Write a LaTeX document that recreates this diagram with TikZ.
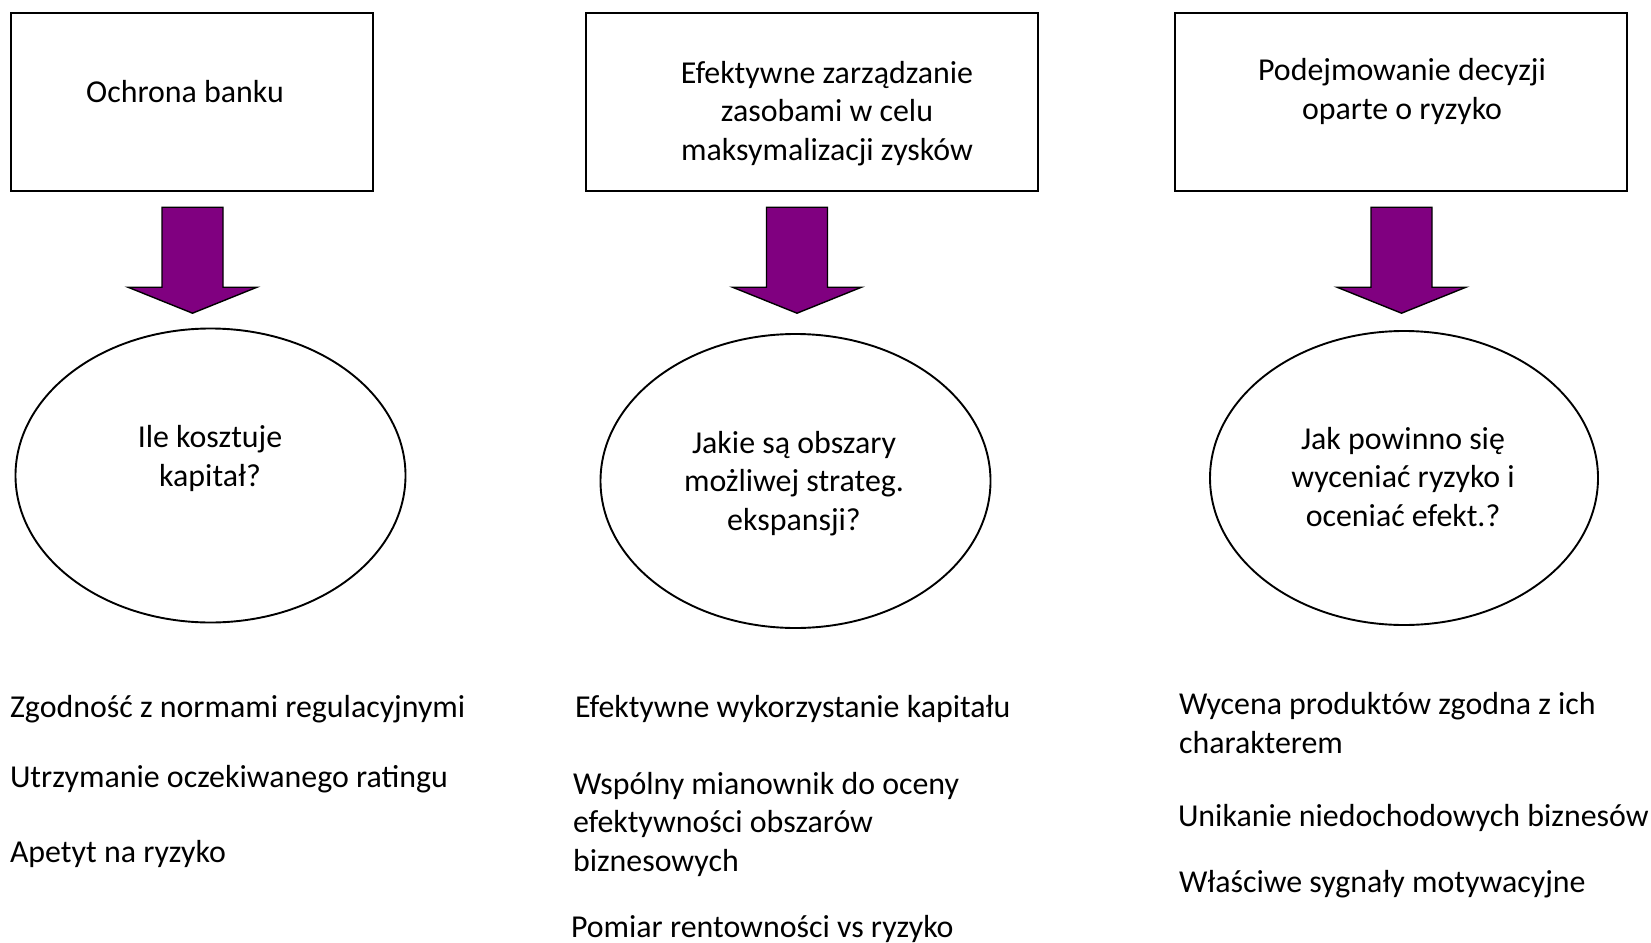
\documentclass[tikz,border=0pt]{standalone}
\usepackage{fontspec}
\setmainfont{Carlito}
\usetikzlibrary{shapes.geometric,calc}
\definecolor{arrowpurple}{HTML}{800080}
\begin{document}
\begin{tikzpicture}[x=1pt,y=-1pt,
  txt/.style={font=\fontsize{31.9}{38.4}\selectfont, inner sep=0pt, outer sep=0pt},
  goalbox/.style={draw=black, line width=2.4pt, rectangle, minimum height=178pt, inner sep=0pt},
  question/.style={draw=black, line width=1.9pt, ellipse, inner sep=0pt},
  blockarrow/.style={fill=arrowpurple, draw=black, line width=1.4pt, line join=miter},
  pics/downarrow/.style={code={
    \draw[blockarrow] (-30.5,0) -- (30.5,0) -- (30.5,80) -- (64.5,80)
      -- (0,106) -- (-64.5,80) -- (-30.5,80) -- cycle;}}]
\useasboundingbox (0,0) rectangle (1651,942);

% top boxes
\node[goalbox, minimum width=362pt] (box1) at (192,102) {};
\node[goalbox, minimum width=452pt] (box2) at (812,102) {};
\node[goalbox, minimum width=452pt] (box3) at (1401,102) {};

% box texts (multi-line nodes sit on the baseline of their last line)
\node[txt, anchor=base, align=center] (t1) at (185,102) {Ochrona banku};
\node[txt, anchor=base, align=center] (t2) at (827,160)
  {Efektywne zarządzanie\\zasobami w celu\\maksymalizacji zysków};
\node[txt, anchor=base, align=center] (t3) at (1402,119)
  {Podejmowanie decyzji\\oparte o ryzyko};

% questions
\node[question, minimum width=390pt, minimum height=294pt] (q1) at (210.5,475.5) {};
\node[question, minimum width=390pt, minimum height=294pt] (q2) at (795.5,481) {};
\node[question, minimum width=388pt, minimum height=294pt] (q3) at (1404,478) {};

\node[txt, anchor=base, align=center] (qt1) at (210,486) {Ile kosztuje\\kapitał?};
\node[txt, anchor=base, align=center] (qt2) at (794,530)
  {Jakie są obszary\\możliwej strateg.\\ekspansji?};
\node[txt, anchor=base, align=center] (qt3) at (1403,526)
  {Jak powinno się\\wyceniać ryzyko i\\oceniać efekt.?};

% block arrows between boxes and questions
\path ($(box1.south)+(0.5,15)$) pic {downarrow};
\path ($(box2.south)+(-15,15)$) pic {downarrow};
\path ($(box3.south)+(0.5,15)$) pic {downarrow};

% lists below the questions
\node[txt, anchor=base west] (l1) at (10,717) {Zgodność z normami regulacyjnymi};
\node[txt, anchor=base west] (l2) at (10,787) {Utrzymanie oczekiwanego ratingu};
\node[txt, anchor=base west] (l3) at (10,862) {Apetyt na ryzyko};

\node[txt, anchor=base west] (m1) at (575,717) {Efektywne wykorzystanie kapitału};
\node[txt, anchor=base west, align=left] (m2) at (573,871)
  {Wspólny mianownik do oceny\\efektywności obszarów\\biznesowych};
\node[txt, anchor=base west] (m3) at (571,937) {Pomiar rentowności vs ryzyko};

\node[txt, anchor=base west, align=left] (r1) at (1179,753)
  {Wycena produktów zgodna z ich\\charakterem};
\node[txt, anchor=base west] (r2) at (1178,826) {Unikanie niedochodowych biznesów};
\node[txt, anchor=base west] (r3) at (1179,892) {Właściwe sygnały motywacyjne};
\end{tikzpicture}
\end{document}
